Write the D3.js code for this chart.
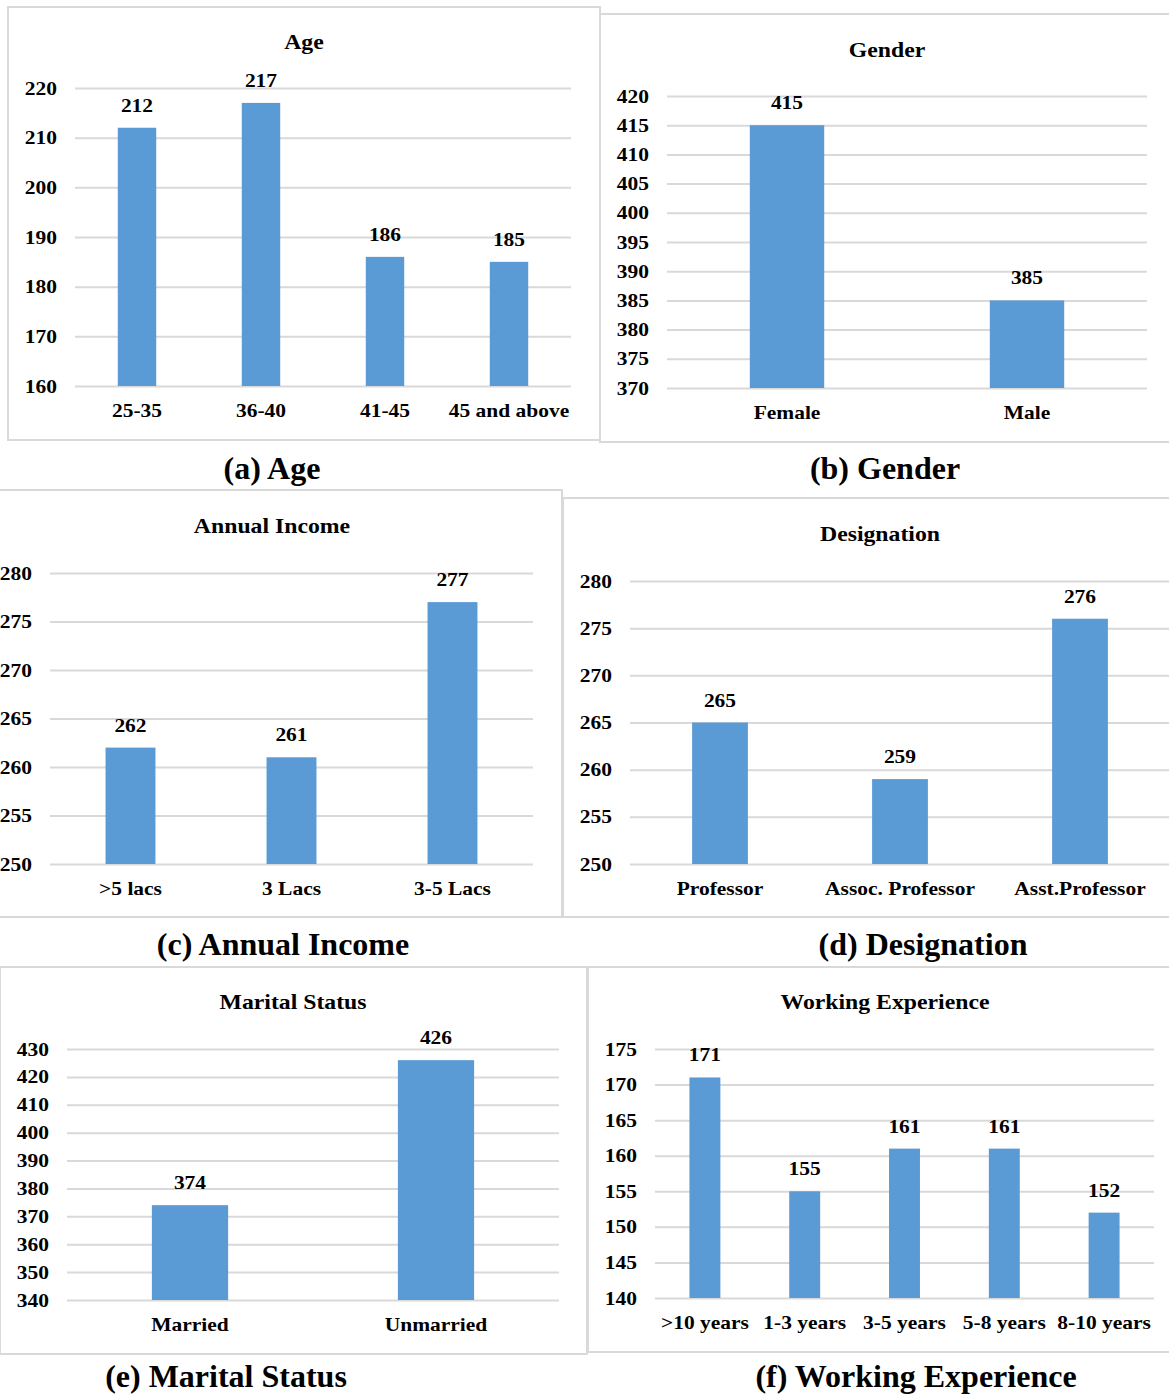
<!DOCTYPE html>
<html>
<head>
<meta charset="utf-8">
<script src="https://cdn.jsdelivr.net/npm/d3@7"></script>
<style>
  body { margin: 0; background: #fff; }
  svg text { font-family: "Liberation Serif", "Times New Roman", serif; font-weight: bold; fill: #000; }
</style>
</head>
<body>
<div id="chart"></div>
<script>
var svgWidth = 1169;
var svgHeight = 1396;

// data
var ageCategories = ["25-35", "36-40", "41-45", "45 and above"];
var ageValues = [212, 217, 186, 185];
var ageTicks = [160, 170, 180, 190, 200, 210, 220];

var genderCategories = ["Female", "Male"];
var genderValues = [415, 385];
var genderTicks = [370, 375, 380, 385, 390, 395, 400, 405, 410, 415, 420];

var incomeCategories = [">5 lacs", "3 Lacs", "3-5 Lacs"];
var incomeValues = [262, 261, 277];
var incomeTicks = [250, 255, 260, 265, 270, 275, 280];

var designationCategories = ["Professor", "Assoc. Professor", "Asst.Professor"];
var designationValues = [265, 259, 276];
var designationTicks = [250, 255, 260, 265, 270, 275, 280];

var maritalCategories = ["Married", "Unmarried"];
var maritalValues = [374, 426];
var maritalTicks = [340, 350, 360, 370, 380, 390, 400, 410, 420, 430];

var experienceCategories = [">10 years", "1-3 years", "3-5 years", "5-8 years", "8-10 years"];
var experienceValues = [171, 155, 161, 161, 152];
var experienceTicks = [140, 145, 150, 155, 160, 165, 170, 175];

var titles = ["Age", "Gender", "Annual Income", "Designation", "Marital Status", "Working Experience"];
var captions = ["(a) Age", "(b) Gender", "(c) Annual Income", "(d) Designation", "(e) Marital Status", "(f) Working Experience"];

// layout of each panel (box, plot area, title, caption)
var panels = [
    { cats: ageCategories, vals: ageValues, ticks: ageTicks,
      box: [8, 7, 600, 440], plot: [75, 88, 571, 386], titleX: 304, titleY: 49, capX: 272, capY: 479 },
    { cats: genderCategories, vals: genderValues, ticks: genderTicks,
      box: [600, 14, 1175, 442], plot: [667, 96, 1147, 388], titleX: 887, titleY: 57, capX: 885, capY: 479 },
    { cats: incomeCategories, vals: incomeValues, ticks: incomeTicks,
      box: [-5, 490, 562, 917], plot: [50, 573, 533, 864], titleX: 272, titleY: 533, capX: 283, capY: 955 },
    { cats: designationCategories, vals: designationValues, ticks: designationTicks,
      box: [563, 498, 1175, 917], plot: [630, 581, 1170, 864], titleX: 880, titleY: 541, capX: 923, capY: 955 },
    { cats: maritalCategories, vals: maritalValues, ticks: maritalTicks,
      box: [0, 967, 587, 1354], plot: [67, 1049, 559, 1300], titleX: 293, titleY: 1009, capX: 226, capY: 1387 },
    { cats: experienceCategories, vals: experienceValues, ticks: experienceTicks,
      box: [588, 967, 1175, 1352], plot: [655, 1049, 1154, 1298], titleX: 885, titleY: 1009, capX: 916, capY: 1387 }
];

// the chart pictures are a bit wider than the type, so widen in-panel text
var stretch = 1.13;

var svg = d3.select("#chart")
    .append("svg")
    .attr("width", svgWidth)
    .attr("height", svgHeight);

panels.forEach(function (p, i) {
    var g = svg.append("g");

    // panel border
    g.append("rect")
        .attr("x", p.box[0])
        .attr("y", p.box[1])
        .attr("width", p.box[2] - p.box[0])
        .attr("height", p.box[3] - p.box[1])
        .attr("fill", "none")
        .attr("stroke", "#d9d9d9")
        .attr("stroke-width", 2);

    var xScale = d3.scaleBand()
        .domain(p.cats)
        .range([p.plot[0], p.plot[2]])
        .paddingInner(0.69)
        .paddingOuter(0.345);

    var yScale = d3.scaleLinear()
        .domain(d3.extent(p.ticks))
        .range([p.plot[3], p.plot[1]]);

    // y axis with gridlines
    var yAxis = d3.axisLeft(yScale)
        .tickValues(p.ticks)
        .tickSize(-(p.plot[2] - p.plot[0]))
        .tickPadding(18)
        .tickFormat(d3.format("d"));

    var yG = g.append("g")
        .attr("transform", `translate(${p.plot[0]}, 0)`)
        .call(yAxis);
    yG.select(".domain").remove();
    yG.selectAll(".tick line")
        .attr("stroke", "#d9d9d9")
        .attr("stroke-width", 2);
    yG.selectAll(".tick text")
        .classed("wide", true)
        .style("font-size", "19px")
        .style("font-family", "'Liberation Serif', serif")
        .style("font-weight", "bold")
        .attr("fill", "#000");

    // bars
    g.selectAll(".bar")
        .data(p.vals)
        .enter()
        .append("rect")
        .attr("class", "bar")
        .attr("x", (d, j) => xScale(p.cats[j]))
        .attr("y", d => yScale(d))
        .attr("width", xScale.bandwidth())
        .attr("height", d => yScale.range()[0] - yScale(d))
        .attr("fill", "#5b9bd5");

    // value labels
    g.selectAll(".val")
        .data(p.vals)
        .enter()
        .append("text")
        .attr("class", "val wide")
        .attr("x", (d, j) => xScale(p.cats[j]) + xScale.bandwidth() / 2)
        .attr("y", d => yScale(d) - 16)
        .attr("text-anchor", "middle")
        .style("font-size", "19px")
        .text(d => d);

    // x axis labels
    var xAxis = d3.axisBottom(xScale)
        .tickSize(0)
        .tickPadding(18);
    var xG = g.append("g")
        .attr("transform", `translate(0, ${p.plot[3]})`)
        .call(xAxis);
    xG.select(".domain").remove();
    xG.selectAll(".tick text")
        .classed("wide", true)
        .style("font-size", "19px")
        .style("font-family", "'Liberation Serif', serif")
        .style("font-weight", "bold")
        .attr("fill", "#000");

    // chart title
    g.append("text")
        .attr("class", "wide")
        .attr("x", p.titleX)
        .attr("y", p.titleY)
        .attr("text-anchor", "middle")
        .style("font-size", "21px")
        .text(titles[i]);

    // caption under the panel
    g.append("text")
        .attr("x", p.capX)
        .attr("y", p.capY)
        .attr("text-anchor", "middle")
        .style("font-size", "32px")
        .text(captions[i]);
});

svg.selectAll("text.wide").each(function () {
    var len = this.getComputedTextLength();
    d3.select(this)
        .attr("textLength", len * stretch)
        .attr("lengthAdjust", "spacingAndGlyphs");
});
</script>
</body>
</html>
